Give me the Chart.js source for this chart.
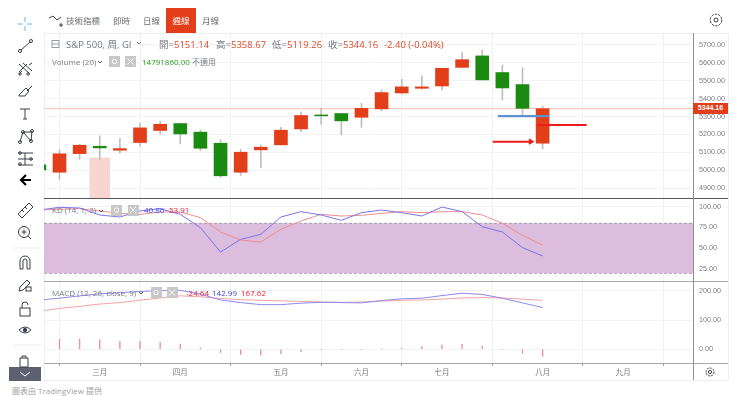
<!DOCTYPE html>
<html>
<head>
<meta charset="utf-8">
<script src="https://cdn.jsdelivr.net/npm/chart.js@4"></script>
<style>
  html, body { margin: 0; padding: 0; background: #fff; }
  body { width: 740px; height: 396px; position: relative; overflow: hidden; font-family: "Open Sans", "Noto Sans CJK TC", sans-serif; filter: blur(0.3px); }
  canvas { position: absolute; left: 44px; }
  .abs { position: absolute; white-space: nowrap; line-height: 1; }
  .tab { top: 16px; font-size: 8.5px; color: #6b6b6b; font-family: "Noto Sans CJK TC", sans-serif; }
  .leg { font-size: 9.5px; color: #787b86; }
  .small { font-size: 8px; color: #787b86; }
  .red { color: #e0492a; }
  .blue { color: #3f3fe0; }
  .macdred { color: #e8203a; }
  .green { color: #2e9a1e; }
  .box { position: absolute; width: 11px; height: 11px; background: #c8c8c8; }
  .line { position: absolute; }
</style>
</head>
<body>
<!-- left frame edge goes under the charts, the cut off candle sits on it -->
<div class="line" style="left:44px;top:33px;width:1px;height:347px;background:#eceef3"></div>

<canvas id="priceChart" width="684" height="165" style="top:33px"></canvas>
<canvas id="kdChart" width="684" height="83" style="top:198px"></canvas>
<canvas id="macdChart" width="684" height="99" style="top:281px"></canvas>

<!-- frame and pane separators -->
<div class="line" style="left:44px;top:33px;width:684px;height:1px;background:#eceef3"></div>
<div class="line" style="left:728px;top:33px;width:1px;height:347px;background:#eceef3"></div>
<div class="line" style="left:44px;top:380px;width:684px;height:1px;background:#eceef3"></div>
<div class="line" style="left:44px;top:197.5px;width:684px;height:1.2px;background:#55585f"></div>
<div class="line" style="left:44px;top:280.5px;width:684px;height:1.2px;background:#a6a8ad"></div>
<div class="line" style="left:44px;top:363px;width:684px;height:1.2px;background:#a6a8ad"></div>
<div class="line" style="left:693px;top:33px;width:1px;height:347px;background:#8d9096"></div>

<!-- top toolbar -->
<div class="abs tab" style="left:66px">技術指標</div>
<div class="abs tab" style="left:113px">即時</div>
<div class="abs tab" style="left:143px">日線</div>
<div class="abs" style="left:166px;top:8px;width:30px;height:25px;background:#e33e1a"></div>
<div class="abs tab" style="left:172.5px;color:#fff">週線</div>
<div class="abs tab" style="left:202px">月線</div>

<!-- legends -->
<div class="abs leg" style="left:66px;top:40px">S&amp;P 500, 周, GI</div>
<div class="abs leg" style="left:159px;top:40px">開=</div><div class="abs leg red" style="left:174px;top:40px">5151.14</div>
<div class="abs leg" style="left:216px;top:40px">高=</div><div class="abs leg red" style="left:231px;top:40px">5358.67</div>
<div class="abs leg" style="left:272px;top:40px">低=</div><div class="abs leg red" style="left:287px;top:40px">5119.26</div>
<div class="abs leg" style="left:328px;top:40px">收=</div><div class="abs leg red" style="left:343px;top:40px">5344.16</div>
<div class="abs leg red" style="left:384px;top:40px">-2.40 (-0.04%)</div>

<div class="abs small" style="left:52px;top:57.5px">Volume (20)</div>
<div class="box" style="left:109px;top:56px"></div><div class="box" style="left:125px;top:56px"></div>
<div class="abs small green" style="left:142px;top:57.5px">14791860.00</div>
<div class="abs small" style="left:192px;top:57.5px">不適用</div>

<div class="abs small" style="left:52px;top:206px">KD (14, 1, 3)</div>
<div class="box" style="left:111px;top:204.5px"></div><div class="box" style="left:127.5px;top:204.5px"></div>
<div class="abs small blue" style="left:144px;top:206px">40.86</div>
<div class="abs small macdred" style="left:169px;top:206px">53.91</div>

<div class="abs small" style="left:52px;top:288.5px">MACD (12, 26, close, 9)</div>
<div class="box" style="left:150.5px;top:287px"></div><div class="box" style="left:166.5px;top:287px"></div>
<div class="abs small macdred" style="left:186px;top:288.5px">-24.64</div>
<div class="abs small blue" style="left:212px;top:288.5px">142.99</div>
<div class="abs small macdred" style="left:241px;top:288.5px">167.62</div>

<!-- last price tag -->
<div class="abs" style="left:693px;top:103px;width:35px;height:10.5px;background:#e33e1a;color:#fff;font:bold 7px 'Liberation Sans',sans-serif;line-height:10.5px;text-align:center">5344.16</div>

<div class="abs" style="left:9px;top:366.5px;width:32px;height:14.5px;background:#5c6070"></div>
<div class="abs" style="left:12px;top:387px;font-size:8px;color:#a0a0a0">圖表由 TradingView 提供</div>

<!-- toolbar icons -->
<svg class="abs" style="left:0;top:0" width="740" height="396" fill="none" stroke="#3a3e48" stroke-width="1">
  <path d="M25 17v5M25 26v5M18 24h5M27 24h5" stroke="#6ab7ee"/>
  <path d="M21 50L30 42"/><circle cx="20" cy="51" r="1.5"/><circle cx="31" cy="41" r="1.5"/>
  <path d="M19 64l11 10M23 63l9 8M19 72l8-8M19 74l3-3M29 65l3-2"/><circle cx="20" cy="74" r="1.2"/><circle cx="28" cy="74" r="1.2"/>
  <path d="M19 95l7-7 3 3-4 5h-6zM27 91l5-5"/>
  <path d="M20 109h10M25 109v10M23 119h4"/>
  <path d="M20 142l3-10 8 9 1-10M23 132l9 0"/><circle cx="20" cy="142" r="1.5"/><circle cx="23" cy="132" r="1.5"/><circle cx="31" cy="141" r="1.5"/><circle cx="32" cy="131" r="1.5"/>
  <path d="M18 153h15M18 159h15M18 165h15M25 153v12"/><circle cx="20" cy="153" r="1.3"/><circle cx="20" cy="164" r="1.3"/><circle cx="31" cy="159" r="1.3"/>
  <path d="M31 180H22M26 175l-5 5 5 5" stroke="#000" stroke-width="2.2"/>
  <path d="M18 214l11-11 4 4-11 11zM22 210l2 2M25 207l2 2"/>
  <circle cx="24" cy="232" r="5.5"/><path d="M24 229.5v5M21.5 232h5M28 236l3 3"/>
  <path d="M20 269v-8a5 5 0 0 1 10 0v8h-3v-8a2 2 0 0 0-4 0v8z"/>
  <path d="M19 291l1-4 7-7 3 3-7 7z"/><rect x="26" y="287" width="5" height="4"/>
  <rect x="20" y="308" width="10" height="8"/><path d="M22 308v-3a3 3 0 0 1 6 0"/>
  <path d="M19 330q6-6 12 0q-6 6-12 0z"/><circle cx="25" cy="330" r="1.7" fill="#3a3e48"/>
  <path d="M20 358h8v9h-8zM22 358v-2h4v2"/>
  <path d="M20 372l5 4 5-4" stroke="#fff"/>
  <path d="M49 18l4-2 4 4 4-3M61 23v4M59 25h4" />
  <path d="M14 248h28M14 345h28" stroke="#ececec"/>
  <circle cx="716" cy="20" r="2"/><circle cx="716" cy="20" r="5.8" stroke-dasharray="2.6 1"/>
  <circle cx="710" cy="372" r="1.6"/><circle cx="710" cy="372" r="4" stroke-dasharray="2 1"/>
  <rect x="52" y="40.5" width="7" height="7" stroke="#9a9da5"/><path d="M52 44h7" stroke="#9a9da5"/>
  <path d="M137 42l2 2 2-2" stroke="#787b86"/>
  <path d="M98 61l2 2 2-2M99 210l2 2 2-2M139 292l2 2 2-2" stroke="#55585f"/>
  <g stroke="#fff">
    <circle cx="114.5" cy="61.5" r="2.2"/><path d="M127.5 58.5l6 6M133.5 58.5l-6 6"/>
    <circle cx="116.5" cy="210" r="2.2"/><path d="M130 207l6 6M136 207l-6 6"/>
    <circle cx="156" cy="292.5" r="2.2"/><path d="M169 289.5l6 6M175 289.5l-6 6"/>
  </g>
</svg>

<script>
// candles, index 0 is the week cut off at the left edge
const opens  = [5030, 4989, 5093, 5134, 5112, 5155, 5222, 5261, 5213, 5151, 4989, 5114, 5142, 5231, 5309, 5317, 5296, 5343, 5432, 5458, 5471, 5575, 5639, 5546, 5479, 5151.14];
const closes = [5002, 5092, 5140, 5125, 5121, 5237, 5257, 5203, 5123, 4969, 5101, 5129, 5224, 5306, 5304, 5276, 5346, 5434, 5466, 5466, 5570, 5618, 5505, 5460, 5346, 5344.16];
const highs  = [5030, 5114, 5145, 5192, 5179, 5263, 5272, 5263, 5226, 5170, 5118, 5142, 5240, 5326, 5346, 5317, 5374, 5449, 5508, 5527, 5570, 5657, 5672, 5587, 5572, 5358.67];
const lows   = [5002, 4950, 5062, 5062, 5095, 5133, 5203, 5147, 5110, 4960, 4971, 5014, 5142, 5216, 5257, 5198, 5239, 5333, 5426, 5453, 5449, 5570, 5505, 5393, 5309, 5119.26];
const priceTicks = [4900, 5000, 5100, 5200, 5300, 5400, 5500, 5600, 5700];

// KD
const kValues = [96, 99.2, 98.4, 90, 87.6, 94.8, 97.6, 90.8, 74.8, 45.6, 60.8, 66.8, 87.6, 94, 90, 83.6, 92.8, 96, 92.8, 88.8, 99.6, 94, 76, 69.6, 50.8, 40.86];
const dValues = [96, 96.8, 97.6, 94.8, 92, 90.8, 93.6, 93.6, 86.8, 69.6, 60, 57.6, 72.8, 82.8, 90.8, 88.8, 89.6, 92, 94, 92.8, 94, 94, 90, 80, 65.6, 53.91];
const kdTicks = [25, 50, 75, 100];

// MACD
const macdValues = [169, 175, 183, 190, 194, 198, 201, 202, 189, 169, 160, 153, 153, 158, 161, 160, 159, 167, 173, 175, 184, 192, 188, 175, 159, 142.99];
const signalValues = [131, 140, 147, 155, 160, 168, 176, 183, 180, 174, 170, 168, 166, 164, 162, 161, 162, 165, 168, 169, 172, 176, 177, 176, 172, 167.62];
const histValues = [35, 35, 35, 32, 27, 27, 25, 18, 5, -11, -17, -20, -15, -8, -2, -2, -1, 1, 3, 9, 15, 17, 11, 0, -14, -24.64];
const macdTicks = [0, 100, 200];

// x axis
const monthTicks = [2, 6, 11, 15, 19, 24, 28];
const monthLabels = ['三月', '四月', '五月', '六月', '七月', '八月', '九月'];
const xMin = -0.77;
const xMax = 31.47;

// things drawn on top of the price pane
const lastPrice = 5344.16;
const volumeTop = 5069;
const volumeWeek = 2;
const blueLineX = [21.78, 24.32];
const blueLineY = 5302;
const redLineX = [23.71, 26.19];
const redLineY = 5253;
const arrowX = [21.52, 23.41];
const arrowY = 5160;
const bandTop = 80;
const bandBottom = 20;

const upColor = '#e33e1a';
const downColor = '#1a8a10';
const priceMin = 4845;
const priceMax = 5767;

// weeks start at -1 so the first candle falls off the left edge
const toPoints = values => values.map((v, i) => ({ x: i - 1, y: v }));
const flatLine = (xs, y) => xs.map(x => ({ x: x, y: y }));

function xAxis(showLabels) {
    return {
        type: 'linear',
        min: xMin,
        max: xMax,
        offset: false,
        afterBuildTicks: ax => { ax.ticks = monthTicks.map(v => ({ value: v })); },
        afterFit: ax => { ax.height = showLabels ? 17 : 0; ax.paddingLeft = 0; ax.paddingRight = 0; },
        grid: { color: '#eff1f6', drawTicks: showLabels, tickLength: 3, tickColor: '#9a9da5' },
        border: { display: false },
        ticks: {
            display: showLabels,
            autoSkip: false,
            maxRotation: 0,
            padding: 2,
            color: '#7a7d85',
            font: { family: '"Noto Sans CJK TC"', size: 7.5 },
            callback: value => monthLabels[monthTicks.indexOf(value)]
        }
    };
}

function yAxis(min, max, tickValues) {
    return {
        position: 'right',
        min: min,
        max: max,
        afterBuildTicks: ax => { ax.ticks = tickValues.map(v => ({ value: v })); },
        afterFit: ax => { ax.width = 35; ax.paddingTop = 0; ax.paddingBottom = 0; },
        grid: { color: '#f1f3f7', drawTicks: false },
        border: { display: false },
        ticks: {
            padding: 6,
            color: '#7a7d85',
            font: { family: '"Liberation Sans"', size: 7.2 },
            callback: value => value.toFixed(2)
        }
    };
}

function createChart(id, datasets, scales) {
    return new Chart(document.getElementById(id).getContext('2d'), {
        type: 'bar',
        data: { datasets: datasets },
        options: {
            responsive: false,
            animation: false,
            layout: { padding: 0, autoPadding: false },
            plugins: { legend: { display: false }, tooltip: { enabled: false } },
            elements: { point: { radius: 0 } },
            scales: scales
        }
    });
}

function thinLine(data, color, order, width) {
    return { type: 'line', data: data, borderColor: color, borderWidth: width, tension: 0, pointRadius: 0, order: order };
}

createChart('priceChart', [
    thinLine(flatLine(arrowX, arrowY), '#ee1c1c', 0, 2),
    {
        type: 'line',
        data: flatLine([arrowX[1]], arrowY),
        pointStyle: 'triangle',
        pointRotation: 90,
        pointRadius: 3,
        pointBackgroundColor: '#ee1c1c',
        pointBorderColor: '#ee1c1c',
        showLine: false,
        order: 0
    },
    thinLine(flatLine(redLineX, redLineY), '#ee1c1c', 0, 2.2),
    thinLine(flatLine(blueLineX, blueLineY), '#5b94cf', 0, 2.2),
    {
        data: opens.map((o, i) => ({ x: i - 1, y: [o, closes[i]] })),
        backgroundColor: opens.map((o, i) => closes[i] >= o ? upColor : downColor),
        barThickness: 13,
        grouped: false,
        order: 1
    },
    {
        data: highs.map((h, i) => ({ x: i - 1, y: [lows[i], h] })),
        backgroundColor: '#bcbebf',
        barThickness: 1,
        grouped: false,
        order: 2
    },
    thinLine(flatLine([xMin, xMax], lastPrice), '#f3c3ad', 3, 1),
    {
        data: [{ x: volumeWeek, y: [priceMin, volumeTop] }],
        backgroundColor: '#f8d6cf',
        barThickness: 20,
        grouped: false,
        order: 4
    }
], { x: xAxis(false), y: yAxis(priceMin, priceMax, priceTicks) });

createChart('kdChart', [
    thinLine(toPoints(kValues), '#7d74ec', 0, 1),
    thinLine(toPoints(dValues), '#ee8f8f', 0, 1),
    {
        type: 'line',
        data: flatLine([xMin, xMax], bandTop),
        borderColor: '#a29aa8',
        borderWidth: 1,
        borderDash: [3, 2],
        backgroundColor: '#dcbddd',
        fill: '+1',
        pointRadius: 0,
        order: 1
    },
    {
        type: 'line',
        data: flatLine([xMin, xMax], bandBottom),
        borderColor: '#a29aa8',
        borderWidth: 1,
        borderDash: [3, 2],
        pointRadius: 0,
        order: 1
    }
], { x: xAxis(false), y: yAxis(10.8, 110.4, kdTicks) });

createChart('macdChart', [
    thinLine(toPoints(macdValues), '#8f88ee', 0, 1),
    thinLine(toPoints(signalValues), '#f2a3a3', 0, 1),
    {
        data: toPoints(histValues).map(p => ({ x: p.x, y: [0, p.y] })),
        backgroundColor: '#ee8ea2',
        barThickness: 0.7,
        grouped: false,
        order: 1
    }
], { x: xAxis(true), y: yAxis(-47, 234, macdTicks) });
</script>
</body>
</html>
